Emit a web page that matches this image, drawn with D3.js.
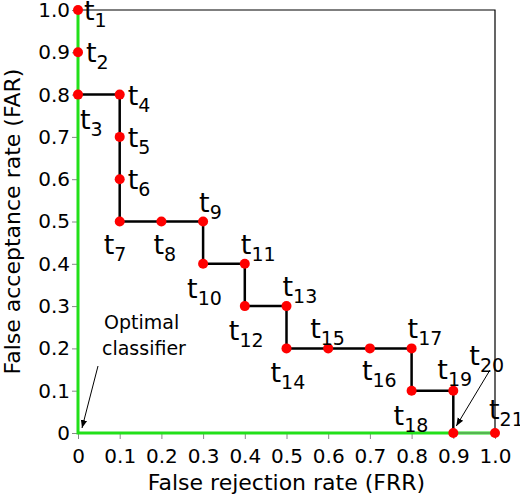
<!DOCTYPE html><html><head><script src="https://cdn.jsdelivr.net/npm/d3@7"></script>
<style>body{margin:0;background:#fff}text{font-family:"DejaVu Sans",sans-serif}</style></head><body>
<svg id="c" width="520" height="497"></svg>
<script>
const names=["t1","t2","t3","t4","t5","t6","t7","t8","t9","t10","t11","t12","t13","t14","t15","t16","t17","t18","t19","t20","t21"];
const frr=[0,0,0,0.1,0.1,0.1,0.1,0.2,0.3,0.3,0.4,0.4,0.5,0.5,0.6,0.7,0.8,0.8,0.9,0.9,1.0];
const far=[1.0,0.9,0.8,0.8,0.7,0.6,0.5,0.5,0.5,0.4,0.4,0.3,0.3,0.2,0.2,0.2,0.2,0.1,0.1,0,0];
// label offsets (dx, dy of baseline)
const ldx=[6,8,2,8,8,8,-16,-8,-4,-16,-4,-16,-4,-16,-18,-8,-4,-18,-16,16,-6];
const ldy=[10,10,34,10,10,10,32,32,-10,34,-10,34,-10,34,-10,32,-10,34,-12,-68,-14];
const ticks=[0,0.1,0.2,0.3,0.4,0.5,0.6,0.7,0.8,0.9,1.0];
const svg=d3.select("#c");
const x=d3.scaleLinear().domain([0,1]).range([78,495]);
const y=d3.scaleLinear().domain([0,1]).range([433,10]);
svg.append("defs").append("marker").attr("id","ah").attr("viewBox","0 0 10 10").attr("refX",10).attr("refY",5)
 .attr("markerWidth",8).attr("markerHeight",8).attr("orient","auto").append("path").attr("d","M0,1L10,5L0,9z").attr("fill","#000");
const fmt=d=>d===0?"0":d.toFixed(1);
const xa=svg.append("g").attr("transform",`translate(0,${y(0)})`).call(d3.axisBottom(x).tickValues(ticks).tickFormat(fmt).tickSize(6));
const ya=svg.append("g").attr("transform",`translate(${x(0)},0)`).call(d3.axisLeft(y).tickValues(ticks).tickFormat(fmt).tickSize(6));
[xa,ya].forEach(a=>{a.select(".domain").remove();a.selectAll("line").attr("stroke","#888");a.selectAll("text").attr("font-size",20).attr("fill","#000");});
xa.selectAll("text").attr("dy","1.05em");
ya.selectAll("text").attr("x",-8);
// frame
svg.append("path").attr("d",`M${x(0)},${y(1)}H${x(1)}V${y(0)}`).attr("fill","none").attr("stroke","#000").attr("stroke-width",1.2);
// green optimal
svg.append("path").attr("d",`M${x(0)},${y(1)}V${y(0)}H${x(1)}`).attr("fill","none").attr("stroke","#22e01a").attr("stroke-width",3);
// step line
const pts=frr.map((f,i)=>[x(f),y(far[i])]);
svg.append("path").attr("d",d3.line()(pts.slice(2,20))).attr("fill","none").attr("stroke","#000").attr("stroke-width",2.5);
svg.append("path").attr("d",d3.line()(pts.slice(19,21))).attr("fill","none").attr("stroke","#888").attr("stroke-width",1);
svg.selectAll("circle.p").data(pts).enter().append("circle").attr("cx",d=>d[0]).attr("cy",d=>d[1]).attr("r",5).attr("fill","#f00");
// labels
names.forEach((n,i)=>{
 const t=svg.append("text").attr("x",pts[i][0]+ldx[i]).attr("y",pts[i][1]+ldy[i]).attr("font-size",27).text("t");
 t.append("tspan").attr("font-size",19).attr("dy",7).text(n.slice(1));
});
// arrows
svg.append("line").attr("x1",490).attr("y1",370).attr("x2",x(0.9)+3).attr("y2",y(0)-7).attr("stroke","#000").attr("stroke-width",1).attr("marker-end","url(#ah)");
svg.append("text").attr("x",104).attr("y",329).attr("font-size",19).text("Optimal");
svg.append("text").attr("x",102).attr("y",355).attr("font-size",19).text("classifier");
svg.append("line").attr("x1",98).attr("y1",366).attr("x2",x(0)+4).attr("y2",y(0)-5).attr("stroke","#000").attr("stroke-width",1).attr("marker-end","url(#ah)");
// axis titles
svg.append("text").attr("x",(x(0)+x(1))/2).attr("y",490).attr("text-anchor","middle").attr("font-size",22).text("False rejection rate (FRR)");
svg.append("text").attr("transform",`translate(20,${(y(0)+y(1))/2}) rotate(-90)`).attr("text-anchor","middle").attr("font-size",22).text("False  acceptance rate (FAR)");
</script></body></html>
